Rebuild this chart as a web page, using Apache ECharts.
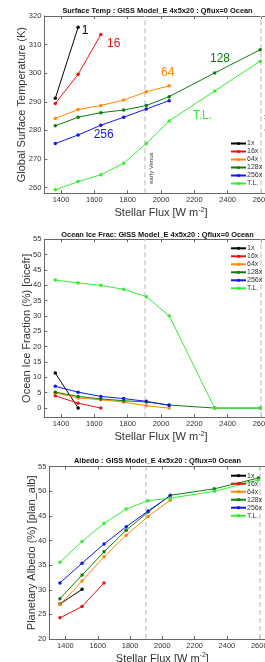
<!DOCTYPE html>
<html>
<head>
<meta charset="utf-8">
<script src="https://cdn.jsdelivr.net/npm/echarts@6/dist/echarts.min.js"></script>
<style>
html,body{margin:0;padding:0;background:#fff;}
#c{width:265px;height:662px;}
</style>
</head>
<body>
<div id="c"></div>
<script>
// ---- data ----
const flux = [1366, 1503, 1639, 1776, 1912, 2049, 2322, 2595];
const seriesNames = ['1x', '16x', '64x', '128x', '256x', 'T.L.'];

// Panel 1: global surface temperature (K)
const temp1x   = [291.2, 316.1];
const temp16x  = [289.4, 299.6, 313.5];
const temp64x  = [284.2, 287.3, 288.7, 290.6, 293.5, 295.6];
const temp128x = [281.6, 284.6, 286.2, 287.1, 288.7, 291.8, 300.1, 308.2];
const temp256x = [275.4, 278.4, 281.8, 284.6, 287.5, 290.4];
const tempTL   = [259.2, 262.1, 264.5, 268.5, 275.4, 283.3, 293.8, 304.2];

// Panel 2: ocean ice fraction (%)
const ice1x   = [11.4, 0];
const ice16x  = [4.0, 1.6, 0];
const ice64x  = [4.9, 3.3, 2.7, 2.0, 0.75, 0];
const ice128x = [5.2, 3.8, 3.0, 2.4, 2.0, 1.0, 0, 0];
const ice256x = [7.1, 5.2, 3.8, 3.1, 2.2, 0.9];
const iceTL   = [41.7, 40.8, 40.0, 38.7, 36.3, 30.1, 0, 0];

// Panel 3: planetary albedo (%)
const alb1x   = [27.1, 30.1];
const alb16x  = [24.3, 26.6, 31.4];
const alb64x  = [27.0, 31.8, 36.7, 41.1, 44.9, 48.2];
const alb128x = [28.2, 33.0, 37.7, 42.1, 45.8, 49.2, 50.5, 52.7];
const alb256x = [31.4, 35.4, 39.3, 42.8, 46.0, 49.1];
const albTL   = [35.6, 39.8, 43.5, 46.4, 48.1, 48.6, 50.0, 52.3];

// ticks
const xTicks = [1400, 1600, 1800, 2000, 2200, 2400, 2600];
const tempTicks = [260, 270, 280, 290, 300, 310, 320];
const iceTicks = [0, 5, 10, 15, 20, 25, 30, 35, 40, 45, 50, 55];
const albTicks = [20, 25, 30, 35, 40, 45, 50, 55];
const venusLines = [1900, 2600];

const titles = [
  'Surface Temp : GISS Model_E 4x5x20 : Qflux=0 Ocean',
  'Ocean Ice Frac: GISS Model_E 4x5x20 : Qflux=0 Ocean',
  'Albedo : GISS Model_E 4x5x20 : Qflux=0 Ocean'
];
const yNames = ['Global Surface Temperature (K)', 'Ocean Ice Fraction (%) [oicefr]', 'Planetary Albedo (%) [plan_alb]'];

// curve labels in panel 1 (data coordinates)
const curveLabels = [
  {text: '1',   x: 1545, y: 315.0, c: 0},
  {text: '16',  x: 1716, y: 310.2, c: 1},
  {text: '64',  x: 2040, y: 300.2, c: 2},
  {text: '128', x: 2354, y: 305.0, c: 3},
  {text: '256', x: 1656, y: 278.5, c: 4},
  {text: 'T.L.', x: 2248, y: 285.2, c: 5}
];

// ---- style ----
const colors = ['#000000', '#ee1111', '#ff8800', '#0a7f0a', '#1515f0', '#33ee33'];
const FONT = '"Liberation Sans", Arial, Helvetica, sans-serif';
const axisCol = '#666';
const txtCol = '#333';

const panels = [
  {vals: [temp1x, temp16x, temp64x, temp128x, temp256x, tempTL], ymin: 258, ymax: 320, yt: tempTicks,
   grid: {left: 44.3, top: 16, width: 233.4, height: 177.3}, ygap: 17, legTop: 139.5, titleY: 10.5},
  {vals: [ice1x, ice16x, ice64x, ice128x, ice256x, iceTL], ymin: -3, ymax: 55, yt: iceTicks,
   grid: {left: 44.3, top: 239.3, width: 233.4, height: 178}, ygap: 12, legTop: 244.3, titleY: 235},
  {vals: [alb1x, alb16x, alb64x, alb128x, alb256x, albTL], ymin: 20, ymax: 55, yt: albTicks,
   grid: {left: 49.3, top: 466.7, width: 226.1, height: 172.3}, ygap: 12.3, legTop: 471.7, titleY: 461}
];

const plain = v => String(v);
const grids = [], xAxes = [], yAxes = [], series = [], legends = [], graphics = [];

panels.forEach((p, i) => {
  grids.push(Object.assign({containLabel: false, outerBoundsMode: 'none'}, p.grid));
  xAxes.push({
    type: 'value', gridIndex: i, min: 1300, max: 2700, position: 'bottom',
    name: 'Stellar Flux [W m{sup|-2}]', nameLocation: 'middle', nameGap: 13,
    nameTextStyle: {fontFamily: FONT, fontSize: 11, color: txtCol,
      rich: {sup: {fontFamily: FONT, fontSize: 7, color: txtCol, padding: [0, 0, 6, 0]}}},
    axisLine: {show: true, onZero: false, lineStyle: {color: axisCol, width: 1}},
    axisTick: {show: true, inside: true, length: 3, customValues: xTicks, lineStyle: {color: axisCol}},
    axisLabel: {show: true, customValues: xTicks, formatter: plain, margin: 2.5, fontFamily: FONT, fontSize: 7.5, color: txtCol, showMinLabel: true, showMaxLabel: true},
    splitLine: {show: false}
  });
  xAxes.push({
    type: 'value', gridIndex: i, min: 1300, max: 2700, position: 'top',
    axisLine: {show: true, onZero: false, lineStyle: {color: axisCol, width: 1}},
    axisTick: {show: true, inside: true, length: 3, customValues: xTicks, lineStyle: {color: axisCol}},
    axisLabel: {show: false},
    splitLine: {show: false}
  });
  yAxes.push({
    type: 'value', gridIndex: i, min: p.ymin, max: p.ymax,
    name: yNames[i], nameLocation: 'middle', nameGap: p.ygap, nameRotate: 90, nameMoveOverlap: false,
    nameTextStyle: {fontFamily: FONT, fontSize: 11, color: txtCol},
    axisLine: {show: true, onZero: false, lineStyle: {color: axisCol, width: 1}},
    axisTick: {show: true, inside: true, length: 3, customValues: p.yt, lineStyle: {color: axisCol}},
    axisLabel: {show: true, customValues: p.yt, formatter: plain, margin: 3, fontFamily: FONT, fontSize: 7.5, color: txtCol, showMinLabel: true, showMaxLabel: true},
    splitLine: {show: false}
  });
  p.vals.forEach((v, k) => {
    const s = {
      type: 'line', name: seriesNames[k], xAxisIndex: i * 2, yAxisIndex: i,
      data: v.map((y, j) => [flux[j], y]),
      symbol: 'circle', symbolSize: 3.5, showSymbol: true,
      lineStyle: {color: colors[k], width: 1},
      itemStyle: {color: colors[k]},
      animation: false, silent: true, clip: true, z: 3
    };
    if (k === 0) {
      s.markLine = {
        silent: true, symbol: ['none', 'none'], animation: false,
        label: {show: false},
        lineStyle: {color: '#cfcfcf', type: [5, 3], width: 1.5},
        data: venusLines.map(x => ({xAxis: x})),
        z: 1
      };
    }
    series.push(s);
  });
  legends.push({
    data: seriesNames, orient: 'vertical', left: 230, top: p.legTop,
    itemWidth: 15, itemHeight: 4, itemGap: 0, selectedMode: false,
    padding: 0,
    textStyle: {fontFamily: FONT, fontSize: 7, color: txtCol, lineHeight: 8, padding: [0, 0, 0, -4]}
  });
  graphics.push({
    type: 'text', x: 157.5, y: p.titleY,
    style: {text: titles[i], fontFamily: FONT, fontSize: 7.4, fontWeight: 'bold', fill: '#111',
      textAlign: 'center', textVerticalAlign: 'middle'}
  });
});

const chart = echarts.init(document.getElementById('c'), null, {renderer: 'canvas'});
chart.setOption({
  animation: false,
  backgroundColor: '#fff',
  grid: grids, xAxis: xAxes, yAxis: yAxes, series: series, legend: legends,
  graphic: graphics
});

// annotations positioned through the axes' scales
const extra = [];
curveLabels.forEach(l => {
  const pt = chart.convertToPixel({xAxisIndex: 0, yAxisIndex: 0}, [l.x, l.y]);
  extra.push({type: 'text', x: pt[0], y: pt[1], z: 10,
    style: {text: l.text, fontFamily: FONT, fontSize: 12, fill: colors[l.c], textAlign: 'center', textVerticalAlign: 'middle'}});
});
const ev = chart.convertToPixel({xAxisIndex: 0, yAxisIndex: 0}, [1900, 266.8]);
extra.push({type: 'text', x: ev[0] + 7.5, y: ev[1], rotation: Math.PI / 2, z: 10,
  style: {text: 'early Venus', fontFamily: FONT, fontSize: 6, fill: '#333', textAlign: 'center', textVerticalAlign: 'middle'}});
const mv = chart.convertToPixel({xAxisIndex: 0, yAxisIndex: 0}, [2600, 283]);
extra.push({type: 'text', x: mv[0] + 5.5, y: mv[1], rotation: Math.PI / 2, z: 10,
  style: {text: 'modern Venus', fontFamily: FONT, fontSize: 6, fill: '#333', textAlign: 'center', textVerticalAlign: 'middle'}});
chart.setOption({graphic: graphics.concat(extra)});
</script>
</body>
</html>
